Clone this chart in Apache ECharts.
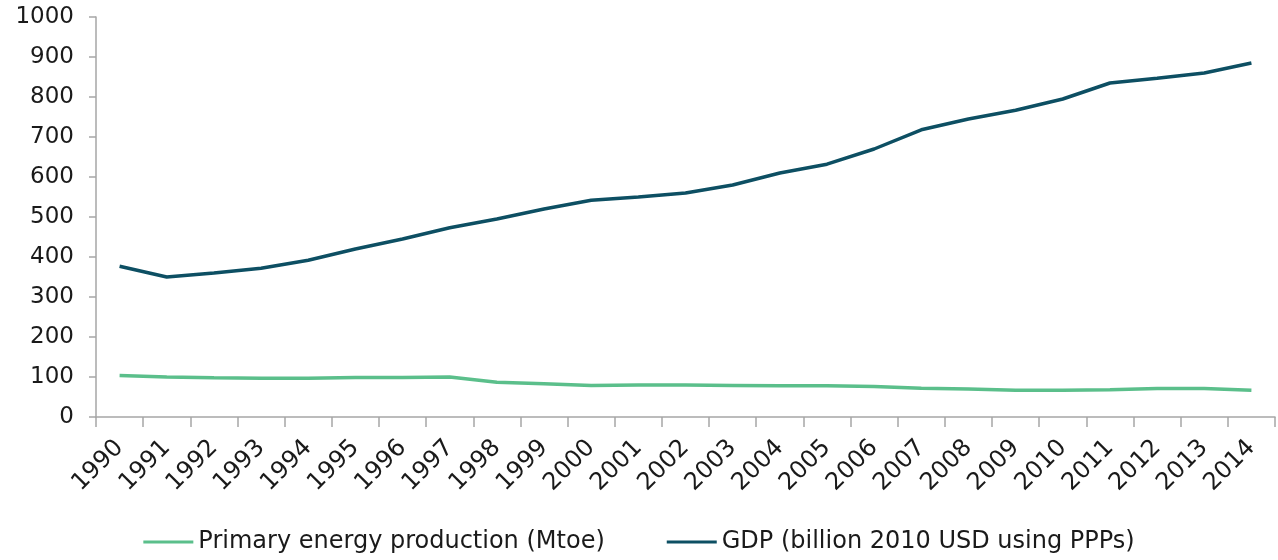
<!DOCTYPE html>
<html>
<head>
<meta charset="utf-8">
<script src="https://cdn.jsdelivr.net/npm/echarts@6/dist/echarts.min.js"></script>
<style>
  html, body { margin: 0; padding: 0; background: #fff; }
  #chart { width: 1278px; height: 560px; }
</style>
</head>
<body>
<div id="chart"></div>
<script>
const years = ['1990', '1991', '1992', '1993', '1994', '1995', '1996', '1997', '1998', '1999',
  '2000', '2001', '2002', '2003', '2004', '2005', '2006', '2007', '2008', '2009',
  '2010', '2011', '2012', '2013', '2014']
// Mtoe
const energyProduction = [104, 100, 98, 97, 97, 99, 99, 100, 87, 83,
  79, 80, 80, 79, 78, 78, 76, 72, 70, 67,
  67, 68, 71, 71, 67]
// billion 2010 USD (PPP)
const gdp = [377, 350, 360, 372, 392, 420, 445, 473, 495, 520,
  542, 550, 560, 580, 610, 632, 670, 718, 745, 767,
  795, 835, 847, 860, 885]
const yTicks = { min: 0, max: 1000, interval: 100 }

const chart = echarts.init(document.getElementById('chart'))
const font = 'DejaVu Sans'
const axisGray = '#a6a6a6'

chart.setOption({
  animation: false,
  grid: { left: 96, right: 3, top: 17, bottom: 143 },
  legend: {
    bottom: 1,
    left: 'center',
    itemWidth: 50,
    itemHeight: 3,
    itemGap: 62,
    icon: 'rect',
    textStyle: { fontFamily: font, fontSize: 24, color: '#1a1a1a' },
    data: ['Primary energy production (Mtoe)', 'GDP (billion 2010 USD using PPPs)']
  },
  xAxis: {
    type: 'category',
    data: years,
    boundaryGap: true,
    axisLine: { lineStyle: { color: axisGray, width: 1.5 } },
    axisTick: { show: true, length: 10, lineStyle: { color: axisGray, width: 1.5 } },
    axisLabel: {
      rotate: 45, interval: 0, margin: 27, align: 'right', verticalAlign: 'middle',
      fontFamily: font, fontSize: 24, color: '#1a1a1a'
    }
  },
  yAxis: {
    type: 'value',
    min: yTicks.min,
    max: yTicks.max,
    interval: yTicks.interval,
    splitLine: { show: false },
    axisLine: { show: true, lineStyle: { color: axisGray, width: 1.5 } },
    axisTick: { show: true, length: 7, lineStyle: { color: axisGray, width: 1.5 } },
    axisLabel: {
      margin: 22, fontFamily: font, fontSize: 23, color: '#1a1a1a',
      formatter: (v) => String(v)
    }
  },
  series: [
    {
      name: 'Primary energy production (Mtoe)',
      type: 'line',
      data: energyProduction,
      showSymbol: false,
      lineStyle: { color: '#5bbf8b', width: 3.5 },
      itemStyle: { color: '#5bbf8b' }
    },
    {
      name: 'GDP (billion 2010 USD using PPPs)',
      type: 'line',
      data: gdp,
      showSymbol: false,
      lineStyle: { color: '#0d4f63', width: 3.5 },
      itemStyle: { color: '#0d4f63' }
    }
  ]
})
</script>
</body>
</html>
